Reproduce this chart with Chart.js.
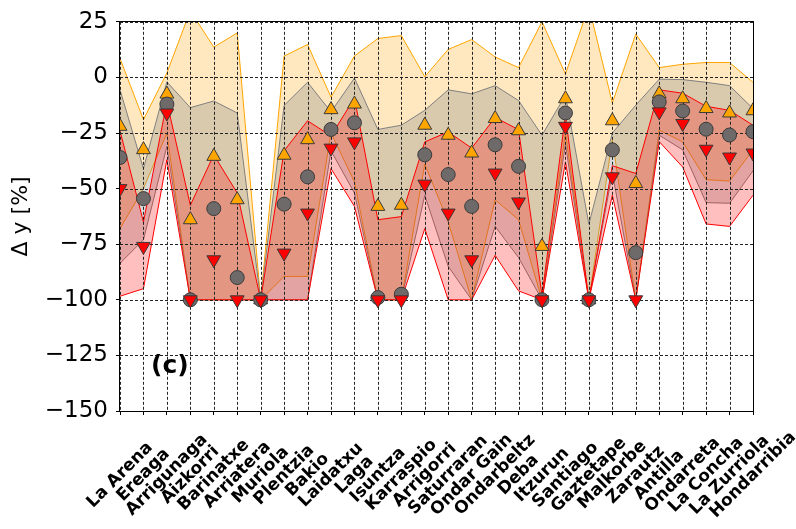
<!DOCTYPE html>
<html>
<head>
<meta charset="utf-8">
<title>Δ y por playa</title>
<script src="https://cdn.jsdelivr.net/npm/chart.js@4.4.0/dist/chart.umd.min.js"></script>
<style>
  html, body { margin: 0; padding: 0; background: #fff; }
  #wrap { width: 796px; height: 529px; }
</style>
</head>
<body>
<div id="wrap"><canvas id="mycanvas" width="796" height="529"></canvas></div>
<script>
// beaches along the x axis, west to east
var beaches = ["La Arena", "Ereaga", "Arrigunaga", "Aizkorri", "Barinatxe", "Arriatera", "Muriola",
    "Plentzia", "Bakio", "Laidatxu", "Laga", "Isuntza", "Karraspio", "Arrigorri", "Saturraran",
    "Ondar Gain", "Ondarbeltz", "Deba", "Itzurun", "Santiago", "Gaztetape", "Malkorbe", "Zarautz",
    "Antilla", "Ondarreta", "La Concha", "La Zurriola", "Hondarribia"];

var yTicks = [25, 0, -25, -50, -75, -100, -125, -150];

// markers
var orangeMid = [-22, -32.5, -7.5, -64, -35.5, -55, -100, -35, -28, -14.5, -12, -58, -57.5, -21.5,
    -26, -34, -18.5, -24, -76, -9.6, -100, -19.5, -47.7, -7.4, -9.6, -14, -16, -15];
var greyMid = [-36, -54.5, -12, -100, -59, -90, -100, -57, -44.7, -23.4, -20.4, -99, -97.5, -34.8,
    -43.7, -58, -30.3, -40, -100, -16, -100, -32.6, -78.8, -11, -15.1, -23.3, -25.9, -24.4];
var redMid = [-50, -76, -16, -100, -82, -100, -100, -79, -61, -31.8, -29, -100, -100, -48,
    -61, -82, -43, -56, -100, -22, -100, -44.7, -100, -15.5, -20.7, -32.3, -35.8, -34];

// shaded ranges, upper and lower edge of each
var orangeMax = [8.5, -19, 2, 30, 13.6, 20, -100, 9.6, 14.8, -8.9, 9.6, 17.5, 18.8, 0.3,
    12.6, 17, 9.2, 4.4, 25, 1.5, 32, -11.5, 19.5, 4.4, 5.9, 6.7, 6.7, -2.2];
var orangeMin = [-68, -50, -25, -100, -100, -100, -100, -89.5, -89.5, -25, -47, -100, -100, -39,
    -65, -100, -55, -64, -100, -25, -100, -28, -100, -23.7, -29, -46, -46.6, -32.6];
var greyMax = [-5.6, -41, -2, -13.6, -10.6, -16, -100, -12.6, -2.2, -15.5, -0.3, -23.4, -21.5, -14.8,
    -5.6, -7.4, -3.7, -10.4, -26, -8, -66, -25, -12.5, -0.8, -1, -2.2, -3.7, -14];
var greyMin = [-83.6, -73, -31, -100, -100, -100, -100, -100, -100, -33, -52, -100, -100, -53,
    -85, -100, -67, -81, -100, -30, -100, -43, -100, -26, -32.6, -56.3, -56.6, -42];
var redMax = [-24, -65, -11, -57.5, -34.8, -52, -100, -33, -19.5, -26.3, -9.3, -64, -62.6, -29,
    -24.5, -31.8, -18, -23.5, -98, -17, -100, -39.7, -43.2, -5.6, -7.1, -13, -14.8, -21.5];
var redMin = [-98.4, -95, -37, -100, -100, -100, -100, -100, -100, -41, -58, -100, -100, -68,
    -100, -100, -80, -96, -100, -38, -100, -53, -100, -28.9, -40.3, -65.9, -67, -53];

var FONT = "'DejaVu Sans', sans-serif";

function edge(values, color, fillColor, order) {
    return {
        data: values,
        borderColor: color,
        borderWidth: 1,
        backgroundColor: fillColor || 'transparent',
        fill: fillColor ? '+1' : false,
        pointRadius: 0,
        pointHoverRadius: 0,
        tension: 0,
        order: order
    };
}

function markers(values, style, radius, face, rotation, order) {
    return {
        data: values,
        showLine: false,
        pointStyle: style,
        pointRadius: radius,
        pointHoverRadius: radius,
        pointRotation: rotation,
        pointBackgroundColor: face,
        pointBorderColor: '#3a3a3a',
        pointBorderWidth: 1,
        clip: 0,
        order: order
    };
}

// dashed grid sits over the shading but under the markers, frame + labels on top
var overlay = {
    id: 'overlay',
    beforeDatasetDraw: function(chart, args) {
        if (args.index !== 6) return;
        var ctx = chart.ctx, area = chart.chartArea;
        var xs = chart.scales.x, ys = chart.scales.y;
        ctx.save();
        ctx.strokeStyle = '#222';
        ctx.lineWidth = 1;
        ctx.setLineDash([3, 2]);
        ctx.beginPath();
        for (var i = 0; i < beaches.length; i++) {
            var px = Math.round(xs.getPixelForValue(i)) + 0.5;
            ctx.moveTo(px, area.top);
            ctx.lineTo(px, area.bottom);
        }
        ys.ticks.forEach(function(t) {
            var py = Math.round(ys.getPixelForValue(t.value)) + 0.5;
            ctx.moveTo(area.left, py);
            ctx.lineTo(area.right, py);
        });
        ctx.stroke();
        ctx.restore();
    },
    afterDraw: function(chart) {
        var ctx = chart.ctx, area = chart.chartArea;
        var xs = chart.scales.x;
        ctx.save();
        ctx.strokeStyle = '#000';
        ctx.lineWidth = 1;
        ctx.strokeRect(Math.round(area.left) - 0.5, Math.round(area.top) - 0.5,
            Math.round(area.right - area.left) + 1, Math.round(area.bottom - area.top) + 1);

        // rotated beach names, centred under their tick like the original
        ctx.fillStyle = '#000';
        ctx.font = 'bold 17px ' + FONT;
        ctx.textAlign = 'center';
        ctx.textBaseline = 'middle';
        for (var i = 0; i < beaches.length; i++) {
            ctx.save();
            ctx.translate(xs.getPixelForValue(i), area.bottom + 64);
            ctx.rotate(-Math.PI / 4);
            ctx.fillText(beaches[i], 0, 0);
            ctx.restore();
        }

        ctx.font = 'bold 25px ' + FONT;
        ctx.textAlign = 'left';
        ctx.fillText('(c)', area.left + 31, 366);
        ctx.restore();
    }
};

var ctx = document.getElementById('mycanvas').getContext('2d');

var chart = new Chart(ctx, {
    type: 'line',
    data: {
        labels: beaches,
        datasets: [
            edge(orangeMax, 'orange', 'rgba(255,165,0,0.25)', 5),
            edge(orangeMin, 'orange', null, 5),
            edge(greyMax, 'grey', 'rgba(128,128,128,0.3)', 4),
            edge(greyMin, 'grey', null, 4),
            edge(redMax, 'red', 'rgba(255,0,0,0.25)', 3),
            edge(redMin, 'red', null, 3),
            markers(orangeMid, 'triangle', 8, 'orange', 0, 2),
            markers(greyMid, 'circle', 7, '#6e6a6a', 0, 1),
            markers(redMid, 'triangle', 8, 'red', 180, 0)
        ]
    },
    options: {
        responsive: false,
        maintainAspectRatio: false,
        animation: false,
        events: [],
        layout: { padding: { top: 17, right: 43, left: 0, bottom: 0 } },
        plugins: {
            legend: { display: false },
            tooltip: { enabled: false }
        },
        scales: {
            x: {
                type: 'category',
                offset: false,
                border: { display: false },
                grid: { drawOnChartArea: false, drawTicks: true, tickLength: 4, tickColor: '#000' },
                ticks: { display: false },
                afterFit: function(scale) { scale.height = 118; }
            },
            y: {
                min: -150,
                max: 25,
                border: { display: false },
                grid: { drawOnChartArea: false, drawTicks: true, tickLength: 4, tickColor: '#000' },
                afterBuildTicks: function(scale) {
                    scale.ticks = yTicks.map(function(v) { return { value: v }; });
                },
                ticks: {
                    padding: 8,
                    color: '#000',
                    font: { family: FONT, size: 23 },
                    callback: function(v) { return String(v).replace('-', '\u2212'); }
                },
                title: {
                    display: true,
                    text: 'Δ y [%]',
                    color: '#000',
                    font: { family: FONT, size: 22 },
                    padding: { top: 8, bottom: 0 }
                },
                afterFit: function(scale) { scale.width = 120; }
            }
        }
    },
    plugins: [overlay]
});
</script>
</body>
</html>
